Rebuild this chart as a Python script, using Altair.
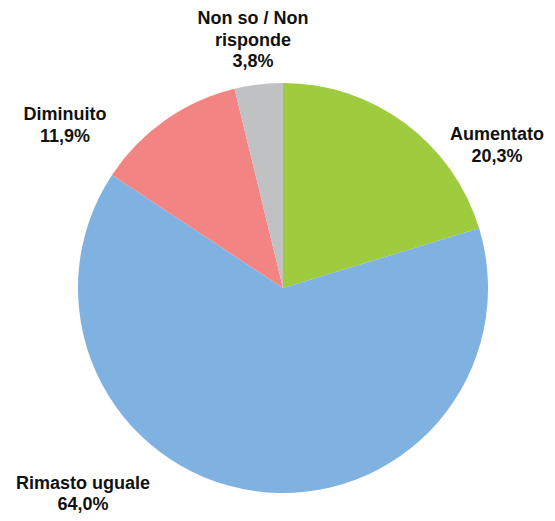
import altair as alt
import pandas as pd

categories = ["Aumentato", "Rimasto uguale", "Diminuito", "Non so / Non risponde"]
values = [20.3, 64.0, 11.9, 3.8]
label_lines = [["Aumentato"], ["Rimasto uguale"], ["Diminuito"], ["Non so / Non", "risponde"]]
colors = ["#9FCB3E", "#7FB2E1", "#F38484", "#C0C1C3"]

df = pd.DataFrame({
    "cat": categories,
    "val": values,
    "ord": list(range(len(categories))),
})

CX, CY, R = 275, 280, 205

pie = alt.Chart(df).mark_arc(outerRadius=R, stroke=None).encode(
    theta=alt.Theta("val:Q", stack=True),
    order=alt.Order("ord:Q"),
    color=alt.Color("cat:N", scale=alt.Scale(domain=categories, range=colors), legend=None),
    x=alt.value(CX),
    y=alt.value(CY),
)

# label anchor positions (pixels within the view, first line centre), one per category
label_pos = [(489, 127), (75, 476), (57, 107), (245, 11)]
label_lh = [21.5, 20.5, 21.5, 21.5]

layers = [pie]
for cat, val, lines, (lx, ly), lh in zip(categories, values, label_lines, label_pos, label_lh):
    txt = lines + [f"{val:.1f}".replace(".", ",") + "%"]
    ldf = pd.DataFrame({"t": ["\n".join(txt)]})
    layers.append(
        alt.Chart(ldf).mark_text(
            font="Liberation Sans", fontSize=18, fontWeight="bold", color="#111111",
            align="center", baseline="middle", lineBreak="\n", lineHeight=lh,
        ).encode(text="t:N", x=alt.value(lx), y=alt.value(ly))
    )

chart = alt.layer(*layers).properties(
    width=539, height=505, padding=0, autosize=alt.AutoSizeParams(type="none"),
).configure_view(stroke=None)

chart.save("out.html", embed_options={"renderer": "svg", "actions": False})
